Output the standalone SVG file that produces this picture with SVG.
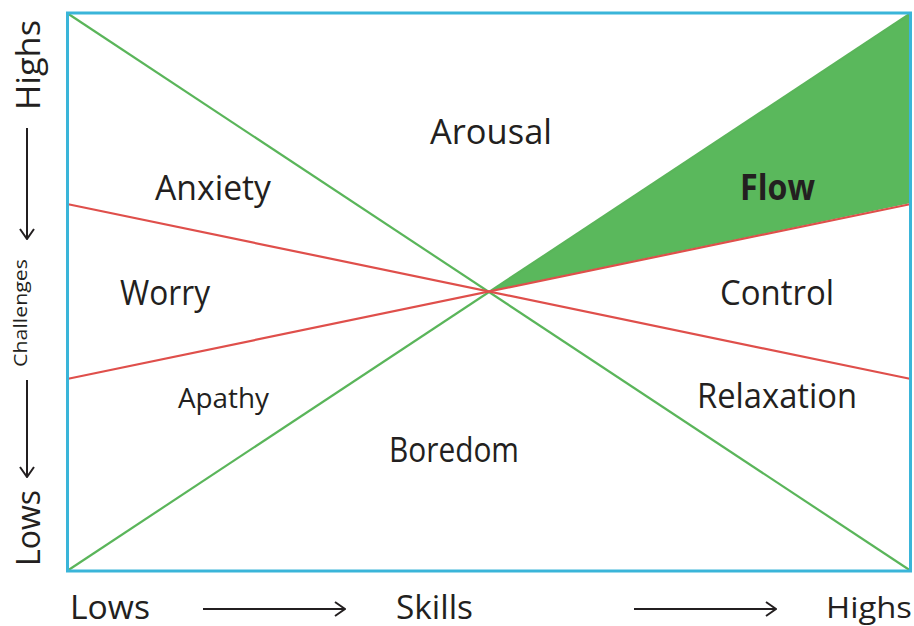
<svg xmlns="http://www.w3.org/2000/svg" width="914" height="626" viewBox="0 0 914 626">
  <style>
    .lbl { font-family: "Open Sans", "Noto Sans", "DejaVu Sans", sans-serif; fill: #231f20; text-anchor: middle; }
    .zone { font-size: 35px; }
    .green { stroke: #5ab55a; stroke-width: 2.2; fill: none; }
    .red { stroke: #df4f4b; stroke-width: 2.2; fill: none; }
    .axis { stroke: #231f20; stroke-width: 2; fill: none; }
  </style>
  <defs>
    <marker id="arrow" viewBox="0 0 12 16" refX="11" refY="8" markerWidth="12" markerHeight="16" markerUnits="userSpaceOnUse" orient="auto">
      <path d="M1,1 L11,8 L1,15" fill="none" stroke="#231f20" stroke-width="2"/>
    </marker>
  </defs>
  <rect width="914" height="626" fill="#ffffff"/>

  <!-- flow channel -->
  <polygon id="flow-area" points="490,291 911,13 911,203" fill="#5ab85c"/>

  <g id="connectors">
    <line class="green" x1="67" y1="13" x2="911" y2="571"/>
    <line class="green" x1="67" y1="571" x2="911" y2="13"/>
    <line class="red" x1="67" y1="204" x2="911" y2="379"/>
    <line class="red" x1="67" y1="379" x2="911" y2="204"/>
  </g>

  <rect id="frame" x="67.5" y="13" width="843" height="558" fill="none" stroke="#3ab5d9" stroke-width="3"/>

  <g id="arousal"><text class="lbl zone" x="491" y="144" textLength="122" lengthAdjust="spacingAndGlyphs">Arousal</text></g>
  <g id="anxiety"><text class="lbl zone" x="213" y="200" textLength="116" lengthAdjust="spacingAndGlyphs">Anxiety</text></g>
  <g id="flow"><text class="lbl zone" x="777.5" y="200" font-weight="bold" textLength="75" lengthAdjust="spacingAndGlyphs">Flow</text></g>
  <g id="worry"><text class="lbl zone" x="165" y="305" textLength="90" lengthAdjust="spacingAndGlyphs">Worry</text></g>
  <g id="control"><text class="lbl zone" x="777" y="305" textLength="114" lengthAdjust="spacingAndGlyphs">Control</text></g>
  <g id="apathy"><text class="lbl" x="223.5" y="408" font-size="28" textLength="91" lengthAdjust="spacingAndGlyphs">Apathy</text></g>
  <g id="relaxation"><text class="lbl zone" x="777" y="408" textLength="160" lengthAdjust="spacingAndGlyphs">Relaxation</text></g>
  <g id="boredom"><text class="lbl zone" x="454" y="462" textLength="130" lengthAdjust="spacingAndGlyphs">Boredom</text></g>

  <!-- challenges axis -->
  <g id="challenges-axis">
    <text class="lbl" font-size="33" transform="translate(40,65) rotate(-90)" textLength="90" lengthAdjust="spacingAndGlyphs">Highs</text>
    <line class="axis" x1="27" y1="128" x2="27" y2="239" marker-end="url(#arrow)"/>
    <text class="lbl" font-size="19" transform="translate(27,313) rotate(-90)" textLength="108" lengthAdjust="spacingAndGlyphs">Challenges</text>
    <line class="axis" x1="27" y1="380" x2="27" y2="477" marker-end="url(#arrow)"/>
    <text class="lbl" font-size="32" transform="translate(40,528) rotate(-90)" textLength="76" lengthAdjust="spacingAndGlyphs">Lows</text>
  </g>

  <!-- skills axis -->
  <g id="skills-axis">
    <text class="lbl" font-size="32" x="110" y="619" textLength="80" lengthAdjust="spacingAndGlyphs">Lows</text>
    <line class="axis" x1="203" y1="609" x2="345" y2="609" marker-end="url(#arrow)"/>
    <text class="lbl" font-size="32" x="434.5" y="619" textLength="77" lengthAdjust="spacingAndGlyphs">Skills</text>
    <line class="axis" x1="634" y1="609" x2="776" y2="609" marker-end="url(#arrow)"/>
    <text class="lbl" font-size="30" x="869" y="618" textLength="86" lengthAdjust="spacingAndGlyphs">Highs</text>
  </g>
</svg>
